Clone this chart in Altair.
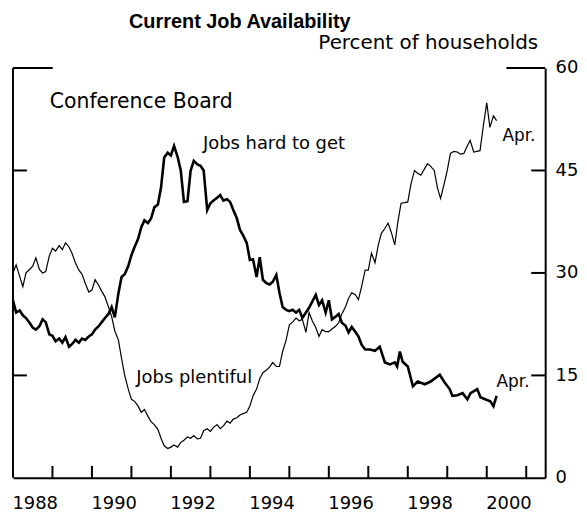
import altair as alt
import pandas as pd

# Jobs plentiful (percent of households), Conference Board
plent_t = [1988.00, 1988.08, 1988.17, 1988.25, 1988.33, 1988.42, 1988.50, 1988.58, 1988.67, 1988.75,
           1988.83, 1988.92, 1989.00, 1989.08, 1989.17, 1989.25, 1989.33, 1989.42, 1989.50, 1989.58,
           1989.67, 1989.75, 1989.83, 1989.92, 1990.00, 1990.08, 1990.17, 1990.25, 1990.33, 1990.42,
           1990.50, 1990.58, 1990.67, 1990.75, 1990.83, 1990.92, 1991.00, 1991.08, 1991.17, 1991.25,
           1991.33, 1991.42, 1991.50, 1991.58, 1991.67, 1991.75, 1991.83, 1991.92, 1992.00, 1992.08,
           1992.17, 1992.25, 1992.33, 1992.42, 1992.50, 1992.58, 1992.67, 1992.75, 1992.83, 1992.92,
           1993.00, 1993.08, 1993.17, 1993.25, 1993.33, 1993.42, 1993.50, 1993.58, 1993.67, 1993.75,
           1993.83, 1993.92, 1994.00, 1994.08, 1994.17, 1994.25, 1994.33, 1994.42, 1994.50, 1994.58,
           1994.67, 1994.75, 1994.83, 1994.92, 1995.00, 1995.08, 1995.17, 1995.25, 1995.33, 1995.42,
           1995.50, 1995.58, 1995.67, 1995.75, 1995.83, 1995.92, 1996.00, 1996.08, 1996.17, 1996.25,
           1996.33, 1996.42, 1996.50, 1996.58, 1996.67, 1996.75, 1996.83, 1996.92, 1997.00, 1997.08,
           1997.17, 1997.25, 1997.33, 1997.42, 1997.50, 1997.58, 1997.67, 1997.75, 1997.83, 1997.92,
           1998.00, 1998.08, 1998.17, 1998.25, 1998.33, 1998.42, 1998.50, 1998.58, 1998.67, 1998.75,
           1998.83, 1998.92, 1999.00, 1999.08, 1999.17, 1999.25, 1999.33, 1999.42, 1999.50, 1999.58,
           1999.67, 1999.75, 1999.83, 1999.92, 2000.00, 2000.08, 2000.17, 2000.25]
plent_v = [30.0, 31.2, 29.5, 28.0, 30.0, 30.5, 31.0, 32.2, 30.5, 30.0,
           30.2, 32.5, 33.6, 33.2, 34.0, 33.4, 34.4, 33.8, 32.8, 31.5,
           30.4, 29.8, 28.5, 27.2, 27.5, 29.0, 28.2, 27.3, 26.5, 25.0,
           23.6, 21.5, 20.2, 17.5, 15.0, 13.0, 11.5, 11.2, 10.5, 9.6,
           10.0, 9.0, 8.2, 7.8, 7.1, 5.8, 4.7, 4.3, 4.5, 4.8,
           4.5, 5.2, 5.5, 6.0, 5.8, 6.2, 5.7, 5.8, 6.9, 7.2,
           6.8, 7.4, 7.8, 7.2, 7.6, 8.3, 8.0, 8.6, 8.8, 9.2,
           9.4, 9.6, 10.5, 12.0, 13.0, 14.5, 15.4, 15.8, 16.2, 16.9,
           16.3, 16.3, 18.5, 20.2, 22.4, 22.8, 23.4, 23.0, 23.2, 21.3,
           24.2, 23.0, 22.0, 20.7, 21.7, 21.4, 21.4, 21.8, 22.2, 22.7,
           24.0, 25.0, 26.3, 27.1, 26.8, 26.1, 28.0, 30.4, 30.4, 32.9,
           31.5, 34.0, 35.8, 36.5, 37.3, 36.0, 34.1, 37.5, 40.2, 40.3,
           40.4, 43.0, 45.0, 44.6, 44.3, 45.2, 46.0, 45.6, 45.0, 42.5,
           40.9, 43.0, 45.0, 47.5, 47.8, 47.7, 47.4, 47.5, 48.5, 49.4,
           47.7, 47.8, 47.9, 51.8, 54.9, 51.3, 53.0, 52.3]

# Jobs hard to get (percent of households), Conference Board
hard_t = [1988.00, 1988.08, 1988.17, 1988.25, 1988.33, 1988.42, 1988.50, 1988.58, 1988.67, 1988.75,
          1988.83, 1988.92, 1989.00, 1989.08, 1989.17, 1989.25, 1989.33, 1989.42, 1989.50, 1989.58,
          1989.67, 1989.75, 1989.83, 1989.92, 1990.00, 1990.08, 1990.17, 1990.25, 1990.33, 1990.42,
          1990.50, 1990.58, 1990.67, 1990.75, 1990.83, 1990.92, 1991.00, 1991.08, 1991.17, 1991.25,
          1991.33, 1991.42, 1991.50, 1991.58, 1991.67, 1991.75, 1991.83, 1991.92, 1992.00, 1992.08,
          1992.17, 1992.25, 1992.33, 1992.42, 1992.50, 1992.58, 1992.67, 1992.75, 1992.83, 1992.92,
          1993.00, 1993.08, 1993.17, 1993.25, 1993.33, 1993.42, 1993.50, 1993.58, 1993.67, 1993.75,
          1993.83, 1993.92, 1994.00, 1994.08, 1994.17, 1994.25, 1994.33, 1994.42, 1994.50, 1994.58,
          1994.67, 1994.75, 1994.83, 1994.92, 1995.00, 1995.08, 1995.17, 1995.25, 1995.33, 1995.42,
          1995.50, 1995.58, 1995.67, 1995.75, 1995.83, 1995.92, 1996.00, 1996.08, 1996.17, 1996.25,
          1996.33, 1996.42, 1996.50, 1996.58, 1996.67, 1996.75, 1996.83, 1996.92, 1997.04, 1997.17,
          1997.29, 1997.42, 1997.55, 1997.67, 1997.73, 1997.80, 1997.87, 1998.00, 1998.13, 1998.25,
          1998.43, 1998.58, 1998.81, 1998.93, 1999.06, 1999.13, 1999.26, 1999.39, 1999.51, 1999.59,
          1999.76, 1999.84, 1999.96, 2000.09, 2000.17, 2000.25]
hard_v = [26.0, 24.2, 24.5, 23.8, 23.4, 22.7, 22.0, 21.7, 22.2, 23.2,
          22.8, 21.0, 20.8, 20.0, 20.4, 19.8, 20.6, 19.2, 19.6, 20.2,
          19.8, 20.4, 20.2, 20.7, 21.0, 21.7, 22.2, 22.8, 23.4, 24.0,
          25.0, 23.5, 27.0, 29.4, 29.8, 31.0, 32.6, 33.8, 35.0, 36.7,
          37.7, 37.3, 38.0, 39.6, 40.0, 42.5, 46.9, 47.6, 47.2, 48.6,
          47.0, 45.0, 40.4, 40.5, 45.0, 46.4, 45.9, 45.7, 45.0, 39.2,
          40.2, 40.6, 41.0, 41.4, 40.6, 40.8, 40.4, 39.2, 38.0, 36.3,
          35.5, 34.4, 31.9, 32.0, 29.4, 32.3, 29.0, 28.5, 28.3, 28.7,
          29.7, 27.1, 25.0, 24.6, 24.4, 24.6, 24.2, 24.6, 23.4, 24.2,
          24.9, 25.8, 26.8, 25.3, 26.0, 24.2, 26.0, 23.2, 23.6, 24.0,
          22.7, 22.3, 21.3, 22.1, 21.4, 20.7, 19.5, 18.8, 18.8, 18.6,
          19.2, 16.9, 16.6, 16.9, 16.3, 18.5, 17.0, 16.3, 13.4, 14.1,
          13.7, 14.1, 15.1, 14.0, 13.0, 12.0, 12.1, 12.4, 11.5, 12.4,
          13.0, 11.8, 11.5, 11.2, 10.5, 12.0]

year_ticks = list(range(1989, 2002))
year_label_pos = [1988.5, 1990.5, 1992.5, 1994.5, 1996.5, 1998.5, 2000.5]
y_axis_values = [0, 15, 30, 45, 60]
left_tick_values = [15, 45]
right_tick_values = [15, 30, 45]
top_value = [60]

W, H = 535, 412
FONT = "DejaVu Sans"

xs = alt.Scale(domain=[1988, 2001.48], nice=False, zero=False)
ys = alt.Scale(domain=[0, 60], nice=False, zero=True)

df_p = pd.DataFrame({"t": plent_t, "v": plent_v})
df_h = pd.DataFrame({"t": hard_t, "v": hard_v})

x_axis = alt.Axis(values=year_label_pos, labelExpr="floor(datum.value)", tickSize=0, ticks=False,
                  domain=True, domainWidth=2, domainColor="black", grid=False, title=None,
                  labelFont=FONT, labelFontSize=18, labelColor="black", labelPadding=17,
                  labelOffset=2, labelFlush=False, labelOverlap=False)
y_axis = alt.Axis(orient="right", values=y_axis_values, tickSize=0, ticks=False, domain=True, domainWidth=2,
                  domainColor="black", grid=False, title=None, format="d",
                  labelFont=FONT, labelFontSize=18, labelColor="black", labelPadding=10)

X = alt.X("t:Q", scale=xs, axis=x_axis)
Y = alt.Y("v:Q", scale=ys, axis=y_axis)

thin = alt.Chart(df_p).mark_line(color="black", strokeWidth=1.2).encode(x=X, y=Y)
thick = alt.Chart(df_h).mark_line(color="black", strokeWidth=2.6).encode(x=X, y=Y)

bottom_ticks = alt.Chart(pd.DataFrame({"t": year_ticks})).mark_rule(color="black", strokeWidth=2).encode(
    x=X, y=alt.value(H - 12), y2=alt.value(H))
left_ticks = alt.Chart(pd.DataFrame({"v": left_tick_values})).mark_rule(color="black", strokeWidth=2).encode(
    y=Y, x=alt.value(0), x2=alt.value(14))
right_ticks = alt.Chart(pd.DataFrame({"v": right_tick_values})).mark_rule(color="black", strokeWidth=2).encode(
    y=Y, x=alt.value(W - 14), x2=alt.value(W))
top_left = alt.Chart(pd.DataFrame({"v": top_value})).mark_rule(color="black", strokeWidth=2).encode(
    y=Y, x=alt.value(0), x2=alt.value(40))
top_right = alt.Chart(pd.DataFrame({"v": top_value})).mark_rule(color="black", strokeWidth=2).encode(
    y=Y, x=alt.value(W - 39), x2=alt.value(W))
left_axis = alt.Chart(pd.DataFrame({"v": top_value})).mark_rule(color="black", strokeWidth=2).encode(
    x=alt.value(0), y=alt.value(0), y2=alt.value(H))

one = pd.DataFrame({"a": [0]})


def label(text, x, y, size=18, font=FONT, weight="normal", align="left"):
    return alt.Chart(one).mark_text(text=text, font=font, fontSize=size, fontWeight=weight,
                                    align=align, baseline="alphabetic", color="black").encode(
        x=alt.value(x), y=alt.value(y))


texts = [
    label("Current Job Availability", 228, -40, size=20, font="Liberation Sans", weight="bold", align="center"),
    label("Percent of households", 307, -19, size=20),
    label("Conference Board", 37, 40, size=20.5),
    label("Jobs hard to get", 191, 81, size=18),
    label("Jobs plentiful", 124, 317, size=18),
    label("Apr.", 492, 73, size=17),
    label("Apr.", 486, 321, size=17),
]

chart = alt.layer(thin, thick, bottom_ticks, left_ticks, right_ticks, top_left, top_right, left_axis, *texts).properties(
    width=W, height=H,
    padding={"left": 5, "top": 59, "right": 34, "bottom": 33},
    autosize=alt.AutoSizeParams(type="none"),
    background="white",
).configure_view(stroke=None)

chart.save("out.html", embed_options={"renderer": "svg", "actions": False})
